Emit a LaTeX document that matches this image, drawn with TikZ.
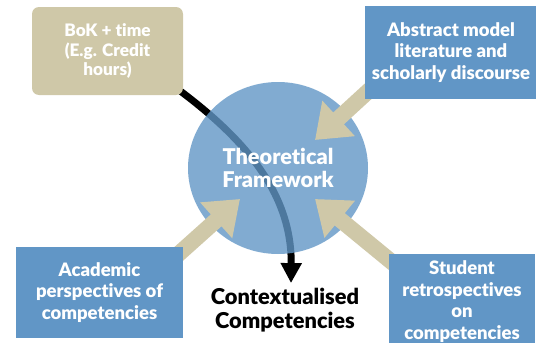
\documentclass[tikz,border=0pt]{standalone}
\usepackage{fontspec}
\setmainfont{Lato}[BoldFont={Lato Black}, Ligatures=NoCommon]
\usetikzlibrary{arrows.meta,shapes.geometric}
\definecolor{boxblue}{RGB}{97,150,198}
\definecolor{khaki}{RGB}{207,200,168}
\pgfdeclarelayer{lines}
\pgfdeclarelayer{disc}
\pgfdeclarelayer{arrows}
\pgfsetlayers{lines,disc,arrows,main}

\begin{document}
\begin{tikzpicture}[x=1pt, y=-1pt,
		bluebox/.style={fill=boxblue, text=white, align=center, inner sep=0pt,
			font=\bfseries\fontsize{18.5}{21.5}\selectfont},
		feed/.style={khaki, line width=16pt, -{Triangle[width=46pt, length=32pt]}}]
			\clip (0, 0) rectangle (536, 343);

			\node[fill=khaki, text=white, rounded corners=7pt, align=center, inner sep=0pt,
				minimum width=151pt, minimum height=88pt,
				font=\bfseries\fontsize{17.2}{19.5}\selectfont] (bok) at (107.5, 51) {BoK + time\\(E.g. Credit\\hours)};
			\node[bluebox, minimum width=172pt, minimum height=93pt] (abstract) at (451, 52.5)
				{Abstract model\\literature and\\scholarly discourse};
			\node[bluebox, minimum width=167pt, minimum height=91pt] (academic) at (99.5, 292.5)
				{Academic\\perspectives of\\competencies};
			\node[bluebox, minimum width=146pt, minimum height=95pt] (student) at (462, 301.5)
				{Student\\retrospectives\\on\\competencies};
			\node[align=center, inner sep=0pt, font=\bfseries\fontsize{21.8}{23.5}\selectfont] (ctx) at (285, 310)
				{Contextualised\\Competencies};

			\begin{pgfonlayer}{disc}
			\node[ellipse, fill=boxblue, fill opacity=.8, text opacity=1, text=white, inner sep=0pt,
				minimum width=180pt, minimum height=172pt, align=center,
				font=\bfseries\fontsize{21.7}{23}\selectfont] (frame) at (278, 168) {Theoretical\\Framework};
			\end{pgfonlayer}

			\coordinate (tipA) at (315, 140);
			\coordinate (tipB) at (240, 199);
			\coordinate (tipC) at (315, 199);

			\begin{pgfonlayer}{arrows}
			\draw[feed] ([shift={(10, -14)}]abstract.south west) -- (tipA);
			\draw[feed] ([shift={(-10, 12)}]academic.north east) -- (tipB);
			\draw[feed] ([shift={(10, 14)}]student.north west) -- (tipC);
			\end{pgfonlayer}

			\begin{pgfonlayer}{lines}
			\draw[line width=7pt, -{Triangle[width=20pt, length=20pt]}]
				([shift={(-8, -8)}]bok.south east) .. controls (240, 135) and (292, 190) .. ([xshift=6pt, yshift=5pt]ctx.north);
			\end{pgfonlayer}
		\end{tikzpicture}
\end{document}
